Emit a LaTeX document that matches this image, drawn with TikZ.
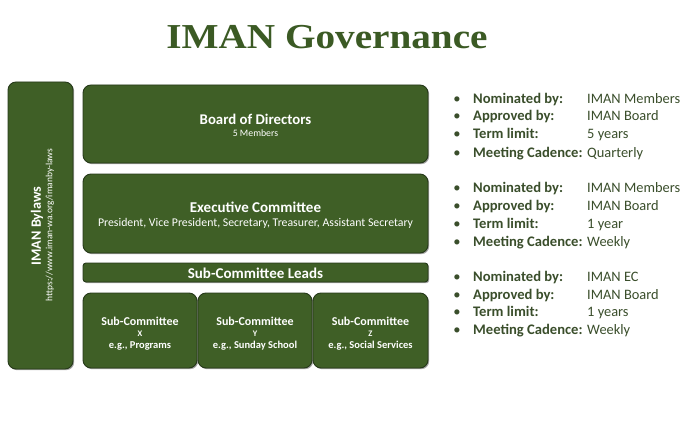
\documentclass[tikz,border=0pt]{standalone}
\usepackage{fontspec}
\setmainfont{Carlito}
\newfontfamily\titlefont{Liberation Serif}
\usetikzlibrary{shadows}
\definecolor{boxgreen}{HTML}{3F5F26}
\definecolor{boxedge}{HTML}{26391A}
\definecolor{titlegreen}{HTML}{3B5A24}
\definecolor{listgreen}{HTML}{3A4E2B}
\begin{document}
\begin{tikzpicture}[x=1pt,y=-1pt,
  gbox/.style={draw=boxedge, line width=0.9pt, fill=boxgreen, rounded corners=8pt,
    inner sep=0pt, drop shadow={shadow xshift=1.2pt, shadow yshift=-1.2pt, opacity=0.35, fill=black}},
  btext/.style={text=white, align=center, inner sep=0pt},
  bul/.style={text=listgreen, anchor=base, inner sep=0pt, font=\fontsize{14.6}{17}\selectfont},
  lab/.style={text=listgreen, anchor=base west, inner sep=0pt, font=\fontsize{14.6}{17}\selectfont\bfseries},
  val/.style={text=listgreen, anchor=base west, inner sep=0pt, font=\fontsize{14.4}{17}\selectfont}
]
\useasboundingbox[fill=white] (0,0) rectangle (683,444);

% title
\node[text=titlegreen, inner sep=0pt] (title) at (327,37)
  {\scalebox{1.12}[1]{\titlefont\bfseries\fontsize{35}{40}\selectfont IMAN Governance}};

% boxes
\node[gbox, minimum width=65pt, minimum height=287pt] (bylaws) at (40.5,225.5) {};
\node[gbox, minimum width=345pt, minimum height=78pt] (board) at (255.5,124) {};
\node[gbox, minimum width=345pt, minimum height=79pt] (exec) at (255.5,213.5) {};
\node[gbox, rounded corners=3pt, minimum width=345pt, minimum height=19pt] (leads) at (255.5,272.5) {};
\node[gbox, minimum width=114pt, minimum height=75pt] (subx) at (140,330.5) {};
\node[gbox, minimum width=114pt, minimum height=75pt] (suby) at (255,330.5) {};
\node[gbox, minimum width=115pt, minimum height=75pt] (subz) at (370.5,330.5) {};

% box texts
\node[btext, font=\fontsize{14.8}{16}\selectfont\bfseries] (boardt) at (255.5,119) {Board of Directors};
\node[btext, font=\fontsize{9.8}{11}\selectfont] (boards) at (255.5,133.5) {5 Members};
\node[btext, font=\fontsize{15}{17}\selectfont\bfseries] (exect) at (255.5,207) {Executive Committee};
\node[btext, font=\fontsize{11.8}{13}\selectfont] (execs) at (255.5,223) {President, Vice President, Secretary, Treasurer, Assistant Secretary};
\node[btext, font=\fontsize{15}{17}\selectfont\bfseries] (leadst) at (255.5,273) {Sub-Committee Leads};

\node[btext, font=\fontsize{12}{13}\selectfont\bfseries] (subxa) at (140,321) {Sub-Committee};
\node[btext, font=\fontsize{8.5}{10}\selectfont\bfseries] (subxb) at (140,334) {X};
\node[btext, font=\fontsize{10.5}{12}\selectfont\bfseries] (subxc) at (140,346) {e.g., Programs};
\node[btext, font=\fontsize{12}{13}\selectfont\bfseries] (subya) at (255,321) {Sub-Committee};
\node[btext, font=\fontsize{8.5}{10}\selectfont\bfseries] (subyb) at (255,334) {Y};
\node[btext, font=\fontsize{10.5}{12}\selectfont\bfseries] (subyc) at (255,346) {e.g., Sunday School};
\node[btext, font=\fontsize{12}{13}\selectfont\bfseries] (subza) at (370.5,321) {Sub-Committee};
\node[btext, font=\fontsize{8.5}{10}\selectfont\bfseries] (subzb) at (370.5,334) {Z};
\node[btext, font=\fontsize{10.5}{12}\selectfont\bfseries] (subzc) at (370.5,346) {e.g., Social Services};

\node[btext, rotate=90, font=\fontsize{14.2}{16}\selectfont\bfseries] (bylawst) at (37,226) {IMAN Bylaws};
\node[btext, rotate=90, font=\fontsize{9.5}{11}\selectfont] (bylawsu) at (50,225) {https://www.iman-wa.org/imanby-laws};

% right-hand list
\foreach \y/\l/\v [count=\i] in {
  98/Nominated by:/IMAN Members, 116/Approved by:/IMAN Board, 134/Term limit:/5 years, 152/Meeting Cadence:/Quarterly,
  187/Nominated by:/IMAN Members, 205/Approved by:/IMAN Board, 223/Term limit:/1 year, 241/Meeting Cadence:/Weekly,
  276/Nominated by:/IMAN EC, 294/Approved by:/IMAN Board, 311/Term limit:/1 years, 329/Meeting Cadence:/Weekly}{
  \node[bul] (b\i) at (457,\y+5) {•};
  \node[lab] (l\i) at (473,\y+5) {\l};
  \node[val] (v\i) at (587,\y+5) {\v};
}
\end{tikzpicture}
\end{document}
